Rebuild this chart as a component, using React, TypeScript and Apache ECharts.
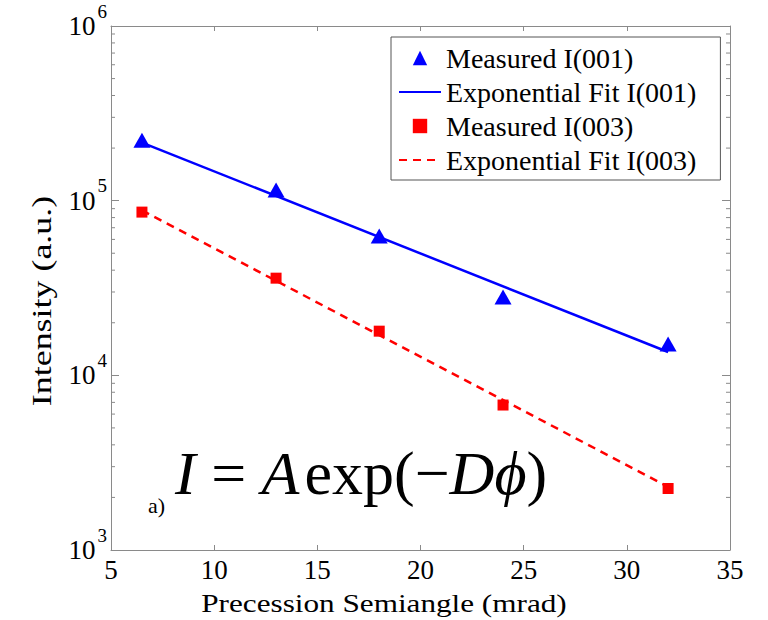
import React, { useEffect, useRef } from "react";
import * as echarts from "echarts";

const FONT = "'Liberation Serif', 'Times New Roman', 'DejaVu Serif', serif";

const xMeasured = [6.5, 13, 18, 24, 32];
const measured001 = [2.22e5, 1.15e5, 6.28e4, 2.81e4, 1.51e4];
const measured003 = [8.6e4, 3.6e4, 1.79e4, 6.76e3, 2.25e3];
const xFit = [6.5, 32];
const fit001 = [2.15e5, 1.36e4];
const fit003 = [8.8e4, 2.3e3];
const xTicks = [5, 10, 15, 20, 25, 30, 35];
const yMinorMultipliers = [2, 3, 4, 5, 6, 7, 8, 9];
const yDecades = [1e3, 1e4, 1e5];

const seriesNames = [
  "Measured I(001)",
  "Exponential Fit I(001)",
  "Measured I(003)",
  "Exponential Fit I(003)",
];

const AXIS_COLOR = "#8a8a8a";

export default function App() {
  const ref = useRef<HTMLDivElement>(null);
  useEffect(() => {
    if (!ref.current) return;
    const chart = echarts.init(ref.current, null, { renderer: "svg" });
    const pair = (xs: number[], ys: number[]) => xs.map((x, i) => [x, ys[i]]);
    const minorData: number[][] = [];
    yDecades.forEach((d) => yMinorMultipliers.forEach((m) => minorData.push([xTicks[0], m * d])));
    const xMin = xTicks[0];
    const xMax = xTicks[xTicks.length - 1];

    const yLabel = (v: number) => {
      const e = Math.round(Math.log10(v));
      return `{b|10}{s|${e}}`;
    };

    const xAxisBase = {
      type: "value",
      min: xMin,
      max: xMax,
      interval: 5,
      splitLine: { show: false },
      axisLine: { show: true, onZero: false, lineStyle: { color: AXIS_COLOR, width: 1 } },
      axisTick: { show: true, inside: true, length: 5, lineStyle: { color: AXIS_COLOR } },
    };
    const yAxisBase = {
      type: "log",
      logBase: 10,
      min: 1e3,
      max: 1e6,
      splitLine: { show: false },
      axisLine: { show: true, onZero: false, lineStyle: { color: AXIS_COLOR, width: 1 } },
      axisTick: { show: true, inside: true, length: 8, lineStyle: { color: AXIS_COLOR } },
    };

    chart.setOption({
      animation: false,
      backgroundColor: "#ffffff",
      textStyle: { fontFamily: FONT },
      grid: { left: 111, right: 38, top: 26, bottom: 70 },
      xAxis: [
        {
          ...xAxisBase,
          position: "bottom",
          axisLabel: { show: true, color: "#000", fontSize: 27, fontFamily: FONT, margin: 6 },
        },
        {
          ...xAxisBase,
          position: "top",
          axisLabel: { show: false },
        },
      ],
      yAxis: [
        {
          ...yAxisBase,
          position: "left",
          axisLabel: {
            show: true,
            margin: 4,
            formatter: yLabel,
            rich: {
              b: { fontSize: 27, fontFamily: FONT, color: "#000" },
              s: { fontSize: 19, fontFamily: FONT, color: "#000", padding: [0, 0, 30, 2] },
            },
          },
        },
        {
          ...yAxisBase,
          position: "right",
          axisLabel: { show: false },
        },
      ],
      legend: {
        orient: "vertical",
        left: 391,
        top: 37,
        padding: [7, 24, 6, 7],
        itemWidth: 42,
        itemHeight: 18,
        itemGap: 6,
        backgroundColor: "#ffffff",
        borderColor: "#555",
        borderWidth: 1,
        borderRadius: 0,
        textStyle: { fontSize: 28, fontFamily: FONT, color: "#000", lineHeight: 27 },
        data: [
          { name: seriesNames[0], lineStyle: { opacity: 0 } },
          { name: seriesNames[1], itemStyle: { opacity: 0 } },
          { name: seriesNames[2], lineStyle: { opacity: 0 } },
          { name: seriesNames[3], itemStyle: { opacity: 0 } },
        ],
      },
      series: [
        {
          name: seriesNames[0],
          type: "line",
          data: pair(xMeasured, measured001),
          symbol: "triangle",
          symbolSize: [17, 15],
          itemStyle: { color: "#0000ff" },
          lineStyle: { opacity: 0, width: 0 },
          z: 3,
        },
        {
          name: seriesNames[1],
          type: "line",
          data: pair(xFit, fit001),
          symbol: "none",
          itemStyle: { color: "#0000ff" },
          lineStyle: { color: "#0000ff", width: 2.5 },
          z: 2,
        },
        {
          name: seriesNames[2],
          type: "line",
          data: pair(xMeasured, measured003),
          symbol: "rect",
          symbolSize: 11,
          itemStyle: { color: "#ff0000" },
          lineStyle: { opacity: 0, width: 0 },
          z: 3,
        },
        {
          name: seriesNames[3],
          type: "line",
          data: pair(xFit, fit003),
          symbol: "none",
          itemStyle: { color: "#ff0000" },
          lineStyle: { color: "#ff0000", width: 2.5, type: [8, 6] },
          z: 2,
        },
        {
          name: "minorTicks",
          type: "custom",
          silent: true,
          data: minorData,
          encode: { x: 0, y: 1 },
          renderItem: (params: any, api: any) => {
            const v = api.value(1);
            const pl = api.coord([xMin, v]);
            const pr = api.coord([xMax, v]);
            const style = { stroke: AXIS_COLOR, lineWidth: 1 };
            return {
              type: "group",
              children: [
                { type: "line", shape: { x1: pl[0], y1: pl[1], x2: pl[0] + 4, y2: pl[1] }, style },
                { type: "line", shape: { x1: pr[0] - 4, y1: pr[1], x2: pr[0], y2: pr[1] }, style },
              ],
            };
          },
        },
      ],
      graphic: [
        {
          type: "text",
          x: 384,
          y: 603,
          scaleX: 1.2,
          style: {
            text: "Precession Semiangle (mrad)",
            font: `26px ${FONT}`,
            fill: "#000",
            align: "center",
            verticalAlign: "middle",
          },
        },
        {
          type: "text",
          x: 42,
          y: 301,
          rotation: Math.PI / 2,
          scaleX: 1.33,
          style: {
            text: "Intensity (a.u.)",
            font: `27px ${FONT}`,
            fill: "#000",
            align: "center",
            verticalAlign: "middle",
          },
        },
        {
          type: "text",
          x: 148,
          y: 505,
          style: {
            text: "a)",
            font: `22px ${FONT}`,
            fill: "#000",
            verticalAlign: "middle",
          },
        },
        {
          type: "text",
          x: 175,
          y: 473,
          style: {
            text: "{i|I}{r| = }{i|A}{g|exp(−}{i|Dϕ}{r|)}",
            fill: "#000",
            verticalAlign: "middle",
            rich: {
              i: { fontSize: 62, fontStyle: "italic", fontFamily: FONT, fill: "#000" },
              r: { fontSize: 62, fontFamily: FONT, fill: "#000" },
              g: { fontSize: 62, fontFamily: FONT, fill: "#000", padding: [0, 0, 0, 5] },
            },
          },
        },
      ],
    });
    return () => chart.dispose();
  }, []);
  return (
    <div
      ref={ref}
      style={{ position: "fixed", left: 0, top: 0, width: 768, height: 620, background: "#fff" }}
    />
  );
}
